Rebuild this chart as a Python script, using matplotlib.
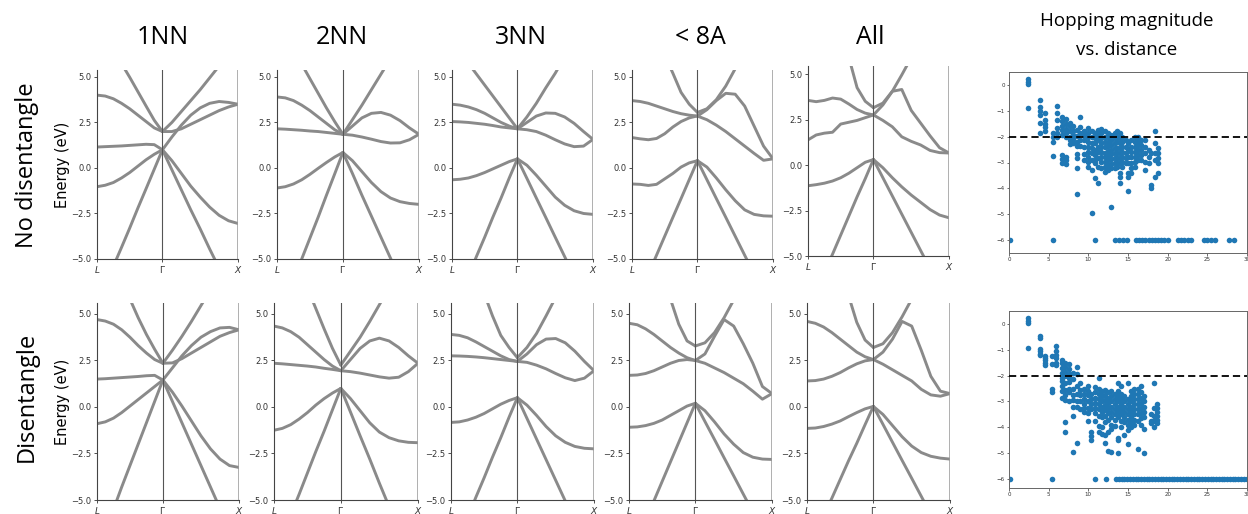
import matplotlib
matplotlib.use('Agg')
import matplotlib.pyplot as plt
import numpy as np

# ---------------- data ----------------
col_titles = ['1NN', '2NN', '3NN', '< 8A', 'All']
row_titles = ['No disentangle', 'Disentangle']
scatter_title = ['Hopping magnitude', 'vs. distance']
kpt_labels = ['$L$', r'$\Gamma$', '$X$']
LG_len = 0.866
GX_len = 1.0
seg_frac = [0, 0.125, 0.25, 0.375, 0.5, 0.625, 0.75, 0.875, 1.0]
e_ticks = [-5.0, -2.5, 0.0, 2.5, 5.0]

# bands (eV) along L->Gamma and Gamma->X, five bands each
nodis_1nn_LG = [[8.0, 7.2, 6.5, 5.73, 4.98, 4.19, 3.4, 2.62, 2.0],
                [4.0, 3.95, 3.8, 3.55, 3.25, 2.9, 2.55, 2.2, 2.0],
                [1.15, 1.17, 1.19, 1.21, 1.24, 1.27, 1.3, 1.28, 1.0],
                [-1.03, -0.95, -0.8, -0.55, -0.25, 0.1, 0.45, 0.75, 1.0],
                [-7.6, -6.5, -5.4, -4.36, -3.3, -2.2, -1.14, -0.07, 1.0]]
nodis_1nn_GX = [[2.0, 2.5, 3.1, 3.7, 4.3, 4.95, 5.6, 6.3, 7.0],
                [2.0, 2.0, 2.15, 2.4, 2.65, 2.9, 3.15, 3.35, 3.5],
                [1.0, 1.7, 2.35, 2.9, 3.3, 3.55, 3.65, 3.6, 3.5],
                [1.0, 0.4, -0.3, -1.0, -1.6, -2.15, -2.6, -2.9, -3.05],
                [1.0, -0.1, -1.2, -2.3, -3.35, -4.45, -5.5, -6.6, -7.7]]
nodis_2nn_LG = [[7.9, 7.1, 6.3, 5.7, 4.9, 4.1, 3.3, 2.55, 1.85],
                [3.9, 3.85, 3.7, 3.45, 3.15, 2.8, 2.45, 2.1, 1.85],
                [2.15, 2.13, 2.1, 2.07, 2.03, 2.0, 1.95, 1.9, 1.85],
                [-1.1, -1.03, -0.88, -0.65, -0.35, -0.02, 0.3, 0.6, 0.85],
                [-8.6, -7.4, -6.2, -5.0, -3.85, -2.7, -1.5, -0.33, 0.85]]
nodis_2nn_GX = [[1.85, 2.65, 3.45, 4.3, 5.15, 6.0, 6.8, 7.6, 8.4],
                [1.85, 2.3, 2.75, 3.0, 3.05, 2.9, 2.6, 2.2, 1.85],
                [1.85, 1.8, 1.7, 1.58, 1.45, 1.37, 1.38, 1.55, 1.85],
                [0.85, 0.4, -0.2, -0.8, -1.3, -1.65, -1.85, -1.95, -2.0],
                [0.85, -0.3, -1.5, -2.65, -3.8, -4.95, -6.1, -7.3, -8.45]]
nodis_3nn_LG = [[6.95, 6.35, 5.75, 5.15, 4.55, 3.95, 3.35, 2.75, 2.15],
                [3.5, 3.45, 3.35, 3.2, 3.0, 2.75, 2.5, 2.3, 2.15],
                [2.55, 2.53, 2.5, 2.45, 2.4, 2.33, 2.25, 2.2, 2.15],
                [-0.65, -0.62, -0.55, -0.42, -0.25, -0.05, 0.15, 0.35, 0.5],
                [-8.1, -7.0, -5.95, -4.85, -3.8, -2.7, -1.65, -0.55, 0.5]]
nodis_3nn_GX = [[2.15, 2.8, 3.55, 4.4, 5.2, 6.1, 7.0, 7.9, 8.8],
                [2.15, 2.5, 2.85, 3.02, 3.0, 2.8, 2.45, 2.0, 1.57],
                [2.15, 2.1, 2.0, 1.8, 1.55, 1.32, 1.17, 1.2, 1.57],
                [0.5, 0.15, -0.4, -1.0, -1.6, -2.05, -2.35, -2.5, -2.55],
                [0.5, -0.57, -1.65, -2.72, -3.8, -4.87, -5.95, -7.0, -8.1]]
nodis_8a_LG = [[9.0, 8.3, 7.6, 6.9, 6.2, 5.2, 4.15, 3.5, 3.05],
               [3.7, 3.65, 3.55, 3.4, 3.25, 3.1, 2.98, 2.9, 2.85],
               [1.67, 1.6, 1.55, 1.62, 1.88, 2.25, 2.55, 2.75, 2.86],
               [-0.88, -0.9, -0.96, -0.9, -0.6, -0.3, 0.05, 0.28, 0.4],
               [-7.9, -6.86, -5.83, -4.79, -3.75, -2.71, -1.68, -0.64, 0.4]]
nodis_8a_GX = [[3.05, 3.25, 3.75, 4.5, 5.45, 6.4, 7.35, 8.3, 9.25],
               [2.85, 3.2, 3.7, 4.1, 4.05, 3.4, 2.3, 1.2, 0.5],
               [2.85, 2.65, 2.35, 2.0, 1.6, 1.2, 0.8, 0.42, 0.5],
               [0.4, 0.05, -0.55, -1.2, -1.8, -2.3, -2.55, -2.63, -2.65],
               [0.4, -0.64, -1.68, -2.71, -3.75, -4.79, -5.83, -6.86, -7.9]]
nodis_all_LG = [[12.0, 10.9, 9.8, 8.7, 7.5, 5.9, 4.25, 3.5, 3.15],
                [3.55, 3.48, 3.55, 3.68, 3.62, 3.35, 3.05, 2.85, 2.75],
                [1.38, 1.65, 1.75, 1.8, 2.25, 2.35, 2.45, 2.6, 2.75],
                [-1.14, -1.08, -1.0, -0.88, -0.7, -0.45, -0.15, 0.15, 0.3],
                [-8.0, -6.95, -5.9, -4.9, -3.85, -2.8, -1.75, -0.75, 0.3]]
nodis_all_GX = [[3.15, 3.4, 4.05, 4.95, 5.9, 6.8, 7.7, 8.6, 9.5],
                [2.75, 3.3, 4.05, 4.15, 3.0, 2.3, 1.6, 0.95, 0.66],
                [2.75, 2.45, 2.1, 1.55, 1.3, 1.1, 0.8, 0.68, 0.66],
                [0.3, -0.15, -0.7, -1.2, -1.65, -2.05, -2.45, -2.75, -2.9],
                [0.3, -0.7, -1.7, -2.7, -3.7, -4.7, -5.7, -6.7, -7.7]]

dis_1nn_LG = [[9.0, 8.3, 7.6, 6.9, 5.8, 4.8, 3.9, 3.1, 2.35],
              [4.7, 4.62, 4.45, 4.15, 3.75, 3.3, 2.9, 2.55, 2.35],
              [1.5, 1.52, 1.55, 1.58, 1.61, 1.64, 1.68, 1.7, 1.45],
              [-0.9, -0.8, -0.6, -0.3, 0.05, 0.4, 0.75, 1.1, 1.45],
              [-7.8, -6.65, -5.5, -4.3, -3.15, -2.0, -0.85, 0.3, 1.45]]
dis_1nn_GX = [[2.35, 3.05, 3.8, 4.6, 5.45, 6.3, 7.15, 8.0, 8.85],
              [2.35, 2.37, 2.6, 2.9, 3.2, 3.5, 3.8, 4.0, 4.15],
              [1.45, 2.1, 2.75, 3.3, 3.75, 4.05, 4.25, 4.28, 4.15],
              [1.45, 0.8, 0.05, -0.75, -1.55, -2.25, -2.8, -3.15, -3.25],
              [1.45, 0.3, -0.85, -2.0, -3.15, -4.3, -5.45, -6.6, -7.75]]
dis_2nn_LG = [[9.5, 8.8, 8.1, 7.4, 6.4, 5.3, 4.2, 3.15, 2.25],
              [4.35, 4.25, 4.05, 3.75, 3.35, 2.95, 2.55, 2.2, 1.95],
              [2.35, 2.32, 2.28, 2.24, 2.2, 2.15, 2.08, 2.02, 1.95],
              [-1.25, -1.15, -0.95, -0.65, -0.3, 0.1, 0.45, 0.75, 1.0],
              [-8.1, -6.95, -5.8, -4.7, -3.55, -2.4, -1.3, -0.15, 1.0]]
dis_2nn_GX = [[2.25, 3.0, 3.75, 4.6, 5.5, 6.4, 7.3, 8.2, 9.1],
              [1.95, 2.55, 3.15, 3.55, 3.7, 3.55, 3.2, 2.75, 2.35],
              [1.95, 1.9, 1.82, 1.72, 1.62, 1.55, 1.6, 1.9, 2.35],
              [1.0, 0.45, -0.2, -0.85, -1.35, -1.65, -1.82, -1.9, -1.92],
              [1.0, -0.27, -1.55, -2.8, -4.1, -5.35, -6.65, -7.9, -9.2]]
dis_3nn_LG = [[9.5, 8.8, 8.1, 7.3, 6.1, 4.9, 3.85, 3.2, 2.65],
              [3.9, 3.85, 3.72, 3.5, 3.25, 3.0, 2.75, 2.55, 2.45],
              [2.75, 2.74, 2.72, 2.69, 2.65, 2.6, 2.55, 2.5, 2.45],
              [-0.83, -0.8, -0.7, -0.55, -0.35, -0.1, 0.15, 0.35, 0.5],
              [-8.1, -7.0, -5.95, -4.85, -3.8, -2.7, -1.65, -0.55, 0.5]]
dis_3nn_GX = [[2.65, 3.2, 3.95, 4.9, 5.9, 6.85, 7.8, 8.75, 9.7],
              [2.45, 2.85, 3.35, 3.65, 3.68, 3.45, 3.0, 2.45, 1.95],
              [2.45, 2.4, 2.25, 2.05, 1.8, 1.57, 1.42, 1.55, 1.95],
              [0.5, 0.1, -0.45, -1.05, -1.55, -1.9, -2.12, -2.22, -2.25],
              [0.5, -0.61, -1.72, -2.83, -3.94, -5.05, -6.16, -7.27, -8.4]]
dis_8a_LG = [[11.0, 10.0, 9.0, 8.1, 7.0, 5.8, 4.45, 3.55, 3.28],
             [4.5, 4.42, 4.2, 3.9, 3.55, 3.2, 2.9, 2.65, 2.5],
             [1.7, 1.72, 1.8, 1.95, 2.15, 2.35, 2.5, 2.55, 2.5],
             [-1.09, -1.07, -1.0, -0.88, -0.7, -0.45, -0.2, 0.05, 0.2],
             [-8.2, -7.15, -6.1, -5.05, -4.0, -2.95, -1.9, -0.85, 0.2]]
dis_8a_GX = [[3.28, 3.45, 4.0, 4.8, 5.75, 6.7, 7.65, 8.6, 9.55],
             [2.5, 2.85, 3.8, 4.7, 4.35, 3.4, 2.35, 1.1, 0.72],
             [2.5, 2.35, 2.1, 1.85, 1.55, 1.25, 0.85, 0.42, 0.72],
             [0.2, -0.2, -0.8, -1.45, -2.0, -2.45, -2.7, -2.8, -2.82],
             [0.2, -0.78, -1.75, -2.73, -3.7, -4.68, -5.65, -6.63, -7.6]]
dis_all_LG = [[11.0, 10.0, 9.0, 8.1, 7.2, 6.0, 4.55, 3.6, 3.2],
              [4.6, 4.5, 4.3, 4.0, 3.65, 3.3, 2.95, 2.7, 2.55],
              [1.4, 1.42, 1.5, 1.65, 1.85, 2.1, 2.32, 2.48, 2.55],
              [-1.15, -1.13, -1.05, -0.92, -0.75, -0.52, -0.3, -0.1, 0.03],
              [-7.85, -6.85, -5.85, -4.9, -3.9, -2.9, -1.95, -0.95, 0.03]]
dis_all_GX = [[3.2, 3.4, 4.0, 4.85, 5.8, 6.75, 7.7, 8.65, 9.6],
              [2.55, 2.95, 3.65, 4.6, 4.35, 3.05, 1.65, 0.85, 0.72],
              [2.55, 2.3, 2.0, 1.7, 1.4, 0.95, 0.65, 0.58, 0.72],
              [0.03, -0.4, -1.0, -1.6, -2.1, -2.45, -2.65, -2.75, -2.8],
              [0.03, -0.93, -1.9, -2.87, -3.83, -4.8, -5.77, -6.73, -7.7]]

# hopping magnitude (log10) vs distance, grouped in shells
threshold = -2
floor_val = -6
nodis_shell_d = [2.4, 3.9, 4.5, 5.5, 6.0, 6.7, 7.2, 7.65, 8.1, 8.6, 9.0, 9.4, 10.0,
                 10.4, 10.9, 11.2, 11.6, 12.05, 12.5, 12.9, 13.3, 13.6, 13.95, 14.3,
                 14.8, 15.0, 15.4, 15.85, 16.3, 16.7, 17.1, 17.7, 17.9, 18.35, 18.8]
nodis_shell_t = [
    [0.22, 0.12, 0.03, -0.9],
    [-0.58, -0.86, -1.0, -1.15, -1.46, -1.87],
    [-1.1, -1.35, -1.5, -1.64, -1.77],
    [-1.85, -2.0, -2.2, -2.75],
    [-0.8, -1.07, -1.35, -1.65, -1.87, -2.0],
    [-1.25, -1.4, -1.58, -1.75, -1.94, -2.71, -2.88, -3.03],
    [-1.33, -1.5, -1.7, -1.87, -2.0, -2.77, -2.9, -3.07],
    [-1.46, -1.6, -1.8, -2.0, -2.13, -2.28],
    [-1.6, -1.77, -1.94, -2.1, -2.26],
    [-1.75, -1.97, -2.2, -2.38, -2.67, -2.84, -3.23, -4.22],
    [-1.25, -1.64, -1.87, -2.13, -2.36],
    [-1.77, -1.94, -2.13, -2.39, -2.67, -2.9],
    [-1.68, -1.84, -2.0, -2.2, -2.39, -2.58, -2.77, -2.97, -3.16],
    [-1.8, -2.0, -2.23, -2.45, -2.65, -2.9, -3.29, -4.97],
    [-1.87, -2.06, -2.26, -2.52, -2.71, -2.9, -3.03, -3.61],
    [-1.74, -1.94, -2.13, -2.39, -2.58, -2.84, -3.16, -3.8],
    [-1.72, -1.87, -2.06, -2.23, -2.39, -2.58, -2.77, -2.97, -3.23],
    [-1.8, -2.0, -2.2, -2.39, -2.62, -2.77, -2.97, -3.16, -3.35],
    [-1.87, -2.03, -2.2, -2.36, -2.55, -2.75, -2.9, -3.1, -3.29],
    [-1.94, -2.13, -2.32, -2.52, -2.67, -2.88, -3.06, -3.23, -4.74],
    [-1.87, -2.06, -2.26, -2.45, -2.65, -2.84, -3.03, -3.23],
    [-1.8, -2.0, -2.2, -2.42, -2.62, -2.81, -3.0, -3.16],
    [-1.87, -2.06, -2.26, -2.45, -2.65, -2.84, -3.03, -3.42, -3.55, -3.8],
    [-2.0, -2.2, -2.39, -2.58, -2.77, -2.97, -3.16],
    [-2.13, -2.39, -2.65, -2.84, -3.03],
    [-2.26, -2.52, -2.77, -3.03, -3.42, -3.55, -4.09],
    [-2.13, -2.39, -2.58, -2.77, -3.03, -3.23, -3.42],
    [-2.0, -2.2, -2.39, -2.58, -2.77, -2.97, -3.16],
    [-2.0, -2.15, -2.32, -2.52, -2.71, -2.9],
    [-2.13, -2.32, -2.52, -2.71, -2.9],
    [-2.13, -2.39, -2.65, -2.97, -3.29],
    [-2.52, -2.77, -3.03],
    [-2.65, -3.87, -4.0],
    [-1.8, -2.26, -2.65, -2.9, -3.55],
    [-2.45, -2.65, -2.84, -3.03, -3.42]]
nodis_floor_d = [0.1, 5.5, 10.9, 13.4, 13.9, 14.4, 14.9, 16.0, 16.4, 16.8, 17.2,
                 17.6, 18.0, 18.4, 18.8, 19.2, 19.6, 20.0, 21.3, 21.7, 22.1, 22.5,
                 22.9, 24.6, 25.0, 25.4, 26.0, 27.7, 28.4]

dis_shell_d = [2.4, 3.9, 4.5, 5.4, 5.9, 6.7, 7.1, 7.6, 8.1, 8.6, 9.0, 9.5, 10.0,
               10.3, 10.9, 11.3, 11.7, 12.1, 12.5, 12.9, 13.3, 13.7, 14.1, 14.5,
               15.0, 15.4, 15.8, 16.2, 16.6, 17.0, 17.9, 18.3, 18.7]
dis_shell_t = [
    [0.22, 0.12, 0.05, -0.95],
    [-0.45, -0.55, -0.97, -1.05, -1.15, -1.22],
    [-1.25, -1.3, -1.4, -1.5, -1.6],
    [-1.25, -1.55, -2.5, -2.65],
    [-0.85, -1.05, -1.2, -1.3, -1.5, -1.58],
    [-1.4, -1.5, -1.7, -1.9, -2.1, -2.2, -2.4, -2.6, -2.85],
    [-1.5, -1.65, -1.85, -2.0, -2.3, -2.55, -2.75, -2.95, -3.8, -4.2],
    [-1.55, -1.75, -1.95, -2.1, -2.25, -2.5, -2.65, -3.0],
    [-1.9, -2.15, -2.5, -2.75, -2.95, -3.2, -3.55, -4.95],
    [-1.65, -1.95, -2.4, -2.7, -3.0, -3.2, -4.6],
    [-2.3, -2.55, -2.75, -3.0, -3.3],
    [-2.5, -2.7, -2.9, -3.1, -3.25, -3.4],
    [-2.4, -2.6, -2.75, -3.0, -3.25, -3.45, -3.75],
    [-2.7, -2.9, -3.1, -3.3, -4.2, -4.35, -4.5],
    [-2.45, -2.65, -2.85, -3.05, -3.25, -3.45, -3.75],
    [-2.1, -2.5, -2.7, -2.9, -3.1, -3.3, -3.55, -3.95, -4.2],
    [-2.6, -2.8, -3.0, -3.2, -3.4, -3.6, -4.0, -4.25],
    [-2.55, -2.75, -2.95, -3.15, -3.35, -3.55, -3.8, -4.3, -4.6],
    [-2.65, -2.85, -3.05, -3.25, -3.45, -3.7, -4.2, -4.9],
    [-2.6, -2.8, -3.0, -3.2, -3.4, -3.6, -3.9, -4.05, -4.95],
    [-2.7, -2.9, -3.1, -3.3, -3.5, -3.7, -3.95],
    [-2.3, -2.6, -2.8, -3.0, -3.2, -3.4, -3.6, -4.4, -4.5, -5.0],
    [-2.4, -2.7, -2.9, -3.1, -3.3, -3.5, -3.75, -4.0],
    [-2.8, -3.0, -3.2, -3.4, -3.6, -3.8, -4.3],
    [-2.3, -2.9, -3.1, -3.3, -3.5, -3.7, -3.9, -4.1, -4.65],
    [-2.6, -2.8, -3.0, -3.2, -3.4, -3.6, -3.8, -4.0],
    [-2.5, -2.7, -2.9, -3.1, -3.3, -3.5, -3.7, -3.9],
    [-2.5, -2.7, -2.9, -3.1, -3.3, -3.5, -3.75, -4.85],
    [-2.4, -2.65, -2.85, -3.05, -3.25, -3.45, -3.65, -3.9],
    [-2.8, -3.0, -3.2, -3.4, -3.6, -4.05, -5.0],
    [-3.5, -3.75, -3.85],
    [-2.3, -3.25, -3.55, -3.75, -4.0],
    [-3.1, -3.25, -3.4, -3.55, -3.7, -3.85]]
dis_floor_d = [0.1, 5.4, 10.9, 12.2, 13.5, 13.85, 14.2, 14.55, 14.9, 15.25, 15.6,
               15.95, 16.3, 16.65, 17.0, 17.35, 17.7, 18.05, 18.4, 18.75, 19.1,
               19.45, 19.8, 20.15, 20.5, 20.85, 21.2, 21.55, 21.9, 22.25, 22.6,
               22.95, 23.3, 23.65, 24.0, 24.35, 24.7, 25.05, 25.4, 25.75, 26.1,
               26.45, 26.8, 27.15, 27.5, 27.85, 28.2, 28.55, 28.9, 29.25, 29.6,
               29.95]
dist_ticks = [0, 5, 10, 15, 20, 25, 30]
mag_ticks = [0, -1, -2, -3, -4, -5, -6]

# ---------------- figure ----------------
W, H = 1248, 514
fig = plt.figure(figsize=(W / 100, H / 100), dpi=100)
TITLE_FONT = ['Open Sans', 'DejaVu Sans']


def ax_px(x0, y0, x1, y1):
    return fig.add_axes([x0 / W, 1 - y1 / H, (x1 - x0) / W, (y1 - y0) / H])


band_color = '#8a8a8a'
k_LG = np.array(seg_frac) * LG_len
k_GX = LG_len + np.array(seg_frac) * GX_len


def band_panel(rect, LG, GX, ytop, ylabel=False):
    ax = ax_px(*rect)
    for row in LG:
        ax.plot(k_LG, row, color=band_color, lw=2.1, solid_capstyle='round',
                solid_joinstyle='round')
    for row in GX:
        ax.plot(k_GX, row, color=band_color, lw=2.1, solid_capstyle='round',
                solid_joinstyle='round')
    ax.axvline(LG_len, color='#555555', lw=0.8)
    ax.axvline(LG_len + GX_len, color='#9a9a9a', lw=1.1)
    ax.set_xlim(0, LG_len + GX_len)
    ax.set_ylim(-5, ytop)
    ax.set_yticks(e_ticks)
    ax.set_yticklabels(['\u22125.0', '\u22122.5', '0.0', '2.5', '5.0'])
    ax.set_xticks([0, LG_len, LG_len + GX_len])
    ax.set_xticklabels(kpt_labels)
    ax.tick_params(axis='y', labelsize=6, length=2.5, width=0.6, pad=1.5,
                   colors='#333333')
    ax.tick_params(axis='x', labelsize=6.5, length=2.5, width=0.6, pad=1.0,
                   colors='#333333')
    for s in ['top', 'right']:
        ax.spines[s].set_visible(False)
    for s in ['left', 'bottom']:
        ax.spines[s].set_color('#444444')
        ax.spines[s].set_linewidth(0.8)
    if ylabel:
        ax.set_ylabel('Energy (eV)', fontsize=10.5, labelpad=1)
    return ax


top_rects = [(97, 70, 238, 259), (277, 70, 419, 259), (452, 70, 593, 259),
             (632, 70, 773, 259), (808, 66, 949, 256)]
top_ytop = [5.38, 5.38, 5.38, 5.38, 5.44]
bot_rects = [(97, 303, 239, 500), (274, 303, 418, 500), (451, 303, 594, 500),
             (629, 303, 772, 500), (807, 303, 950, 500)]
top_data = [(nodis_1nn_LG, nodis_1nn_GX), (nodis_2nn_LG, nodis_2nn_GX),
            (nodis_3nn_LG, nodis_3nn_GX), (nodis_8a_LG, nodis_8a_GX),
            (nodis_all_LG, nodis_all_GX)]
bot_data = [(dis_1nn_LG, dis_1nn_GX), (dis_2nn_LG, dis_2nn_GX),
            (dis_3nn_LG, dis_3nn_GX), (dis_8a_LG, dis_8a_GX),
            (dis_all_LG, dis_all_GX)]

for i in range(5):
    band_panel(top_rects[i], *top_data[i], top_ytop[i], ylabel=(i == 0))
    band_panel(bot_rects[i], *bot_data[i], 5.59, ylabel=(i == 0))


def scatter_panel(rect, shell_d, shell_t, floor_d, ylim):
    ax = ax_px(*rect)
    xs, ys = [], []
    for d, ts in zip(shell_d, shell_t):
        for t in ts:
            xs.append(d)
            ys.append(t)
    xs += list(floor_d)
    ys += [floor_val] * len(floor_d)
    ax.scatter(xs, ys, s=16, color='#1f77b4', linewidths=0, zorder=2)
    ax.axhline(threshold, color='black', lw=1.3, ls=(0, (4, 2.2)), zorder=3)
    ax.set_xlim(0, 30)
    ax.set_ylim(*ylim)
    ax.set_xticks(dist_ticks)
    ax.set_yticks(mag_ticks)
    ax.set_yticklabels(['0', '\u22121', '\u22122', '\u22123', '\u22124', '\u22125',
                        '\u22126'])
    ax.tick_params(labelsize=4, length=1.8, width=0.5, pad=1.2, colors='#333333')
    for s in ax.spines.values():
        s.set_color('#666666')
        s.set_linewidth(0.7)
    return ax


scatter_panel((1009, 72, 1247, 253), nodis_shell_d, nodis_shell_t, nodis_floor_d,
              (-6.5, 0.5))
scatter_panel((1009, 311, 1247, 488), dis_shell_d, dis_shell_t, dis_floor_d,
              (-6.35, 0.5))

# titles
title_x = [163, 342, 521, 700, 870]
for x, t in zip(title_x, col_titles):
    fig.text(x / W, 1 - 37 / H, t, ha='center', va='center', fontsize=18,
             family=TITLE_FONT)
fig.text(1127 / W, 1 - 21 / H, scatter_title[0], ha='center', va='center',
         fontsize=13.5, family=TITLE_FONT)
fig.text(1127 / W, 1 - 50 / H, scatter_title[1], ha='center', va='center',
         fontsize=13.5, family=TITLE_FONT)
fig.text(27 / W, 1 - 165 / H, row_titles[0], ha='center', va='center',
         rotation=90, fontsize=17, family=TITLE_FONT)
fig.text(27 / W, 1 - 397 / H, row_titles[1], ha='center', va='center',
         rotation=90, fontsize=17, family=TITLE_FONT)

fig.savefig('out.png', dpi=100)
